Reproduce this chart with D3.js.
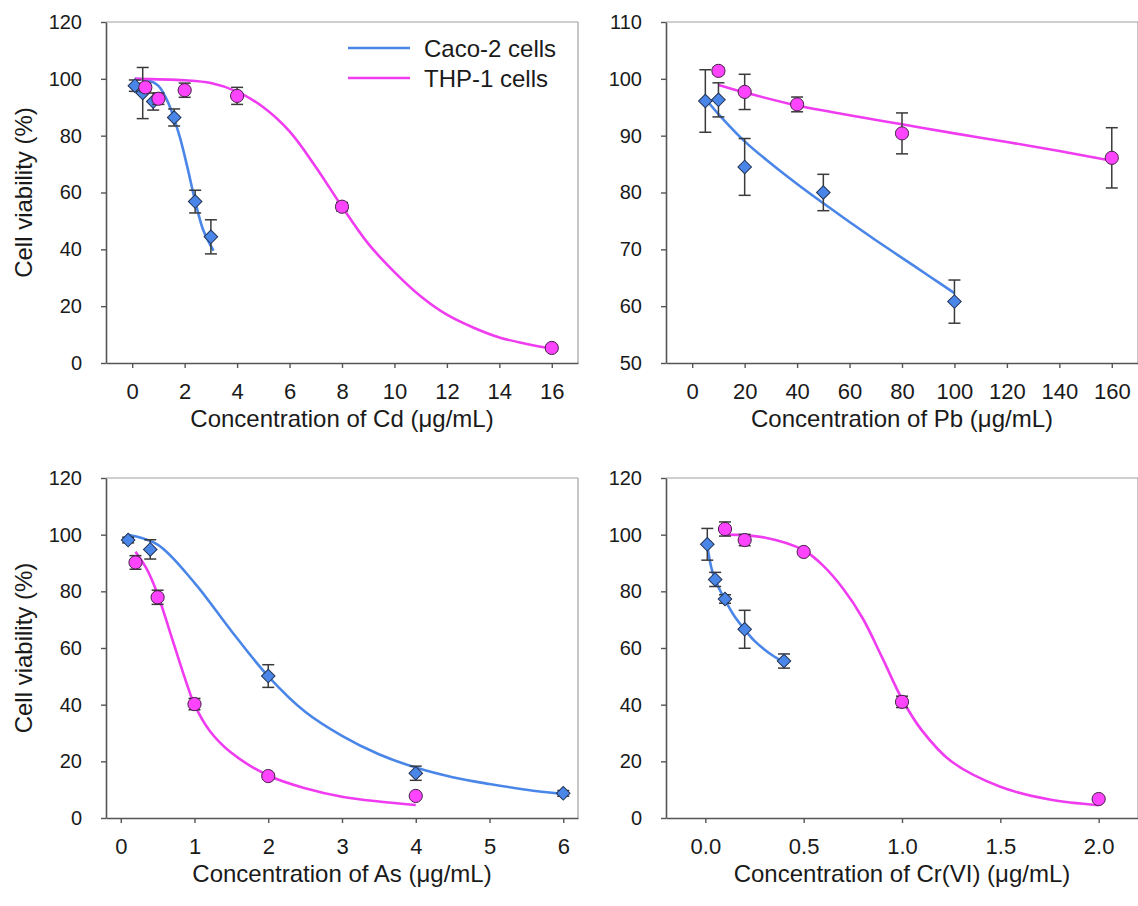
<!DOCTYPE html>
<html>
<head>
<meta charset="utf-8">
<title>Cell viability</title>
<script src="https://d3js.org/d3.v7.min.js"></script>
<style>
  body { margin: 0; background: #fff; }
  svg text { font-family: "Liberation Sans", Arial, sans-serif; fill: #1a1a1a; }
</style>
</head>
<body>
<svg id="chart" width="1138" height="906"></svg>
<script>
  // ---- Cd ----
  var cdCacoConc = [0.1, 0.4, 0.8, 1.6, 2.4, 3.0];
  var cdCacoViab = [97.6, 95, 92, 86.4, 56.8, 44.4];
  var cdCacoErr  = [2, 9, 3, 3, 4, 6];
  var cdThpConc  = [0.5, 1, 2, 4, 8, 16];
  var cdThpViab  = [97, 93, 96, 94, 55, 5.3];
  var cdThpErr   = [1.5, 2, 2.5, 3, 1.5, 1];
  var cdCacoFit  = [[0.1, 100], [0.6, 99.5], [1.0, 97.5], [1.4, 91], [1.8, 80], [2.1, 69], [2.4, 57], [2.7, 47], [3.1, 39.5]];
  var cdThpFit   = [[0.1, 100], [2, 99.5], [3, 98.5], [4, 95.5], [5, 90], [6, 81.5], [7, 69], [8, 55], [9, 42], [10, 32],
                    [11, 23.5], [12, 17], [13, 12.5], [14, 9], [15, 6.8], [16, 5]];

  // ---- Pb ----
  var pbCacoConc = [5, 10, 20, 50, 100];
  var pbCacoViab = [96.1, 96.3, 84.5, 80, 60.8];
  var pbCacoErr  = [5.5, 3, 5, 3.2, 3.8];
  var pbThpConc  = [10, 20, 40, 80, 160];
  var pbThpViab  = [101.4, 97.7, 95.5, 90.4, 86.1];
  var pbThpErr   = [0.6, 3.1, 1.3, 3.6, 5.3];
  var pbCacoFit  = [[5, 96.5], [10, 93.8], [20, 89], [30, 85.1], [40, 81.5], [50, 78.1], [60, 74.8], [70, 71.6], [80, 68.5], [90, 65.4], [100, 62.3]];
  var pbThpFit   = [[10, 98.9], [20, 97.6], [40, 95.3], [60, 93.6], [80, 92.0], [100, 90.4], [120, 88.9], [140, 87.3], [160, 85.6]];

  // ---- As ----
  var asCacoConc = [0.1, 0.4, 2, 4, 6];
  var asCacoViab = [98.1, 94.8, 50.1, 15.8, 8.7];
  var asCacoErr  = [1, 3.4, 4, 2.5, 1];
  var asThpConc  = [0.2, 0.5, 1, 2, 4];
  var asThpViab  = [90.2, 77.9, 40.2, 14.8, 7.8];
  var asThpErr   = [2.4, 2.5, 2, 1, 0.5];
  var asCacoFit  = [[0.1, 100], [0.5, 96.5], [1, 83], [1.5, 66], [2, 50], [2.5, 37.5], [3, 29], [3.5, 22.5], [4, 17.8],
                    [4.5, 14.4], [5, 12], [5.5, 10], [6, 8.5]];
  var asThpFit   = [[0.2, 94], [0.35, 88], [0.5, 79], [0.7, 63], [0.9, 47], [1, 40], [1.2, 31], [1.5, 23], [2, 15],
                    [2.5, 10.5], [3, 7.5], [3.5, 5.8], [4, 4.6]];

  // ---- Cr(VI) ----
  var crCacoConc = [0.01, 0.05, 0.1, 0.2, 0.4];
  var crCacoViab = [96.6, 84.2, 77.3, 66.6, 55.4];
  var crCacoErr  = [5.6, 2.5, 1.5, 6.7, 2.5];
  var crThpConc  = [0.1, 0.2, 0.5, 1, 2];
  var crThpViab  = [102, 98.1, 93.9, 41, 6.7];
  var crThpErr   = [2.5, 2, 0.8, 2, 0.8];
  var crCacoFit  = [[0.01, 96], [0.03, 88.5], [0.05, 84], [0.1, 77], [0.15, 71], [0.2, 66.5], [0.25, 62.5], [0.3, 59.5], [0.35, 57], [0.4, 55]];
  var crThpFit   = [[0.1, 100], [0.3, 99], [0.5, 94.5], [0.6, 89], [0.7, 81], [0.8, 70.5], [0.9, 56.5], [1.0, 42], [1.1, 31],
                    [1.25, 20], [1.5, 11], [1.75, 6.5], [2.0, 4.5]];

  var seriesNames = ["Caco-2 cells", "THP-1 cells"];
  var blue = "#4a86e8";
  var pink = "#f03cf0";

  var svg = d3.select("#chart");

  var panels = [
    { x0: 106, y0: 22, w: 472, h: 341, xDomain: [-1, 17], yDomain: [0, 120],
      xTicks: d3.range(0, 17, 2), yTicks: d3.range(0, 121, 20), fmt: d3.format("d"),
      xTitle: "Concentration of Cd (μg/mL)", yTitle: true, legend: true,
      caco: [cdCacoConc, cdCacoViab, cdCacoErr, cdCacoFit], thp: [cdThpConc, cdThpViab, cdThpErr, cdThpFit] },
    { x0: 666, y0: 22, w: 472, h: 341, xDomain: [-10, 170], yDomain: [50, 110],
      xTicks: d3.range(0, 161, 20), yTicks: d3.range(50, 111, 10), fmt: d3.format("d"),
      xTitle: "Concentration of Pb (μg/mL)", yTitle: false, legend: false,
      caco: [pbCacoConc, pbCacoViab, pbCacoErr, pbCacoFit], thp: [pbThpConc, pbThpViab, pbThpErr, pbThpFit] },
    { x0: 106, y0: 478, w: 472, h: 340, xDomain: [-0.2, 6.2], yDomain: [0, 120],
      xTicks: d3.range(0, 7, 1), yTicks: d3.range(0, 121, 20), fmt: d3.format("d"),
      xTitle: "Concentration of As (μg/mL)", yTitle: true, legend: false,
      caco: [asCacoConc, asCacoViab, asCacoErr, asCacoFit], thp: [asThpConc, asThpViab, asThpErr, asThpFit] },
    { x0: 666, y0: 478, w: 472, h: 340, xDomain: [-0.2, 2.2], yDomain: [0, 120],
      xTicks: [0, 0.5, 1, 1.5, 2], yTicks: d3.range(0, 121, 20), fmt: d3.format(".1f"),
      xTitle: "Concentration of Cr(VI) (μg/mL)", yTitle: false, legend: false,
      caco: [crCacoConc, crCacoViab, crCacoErr, crCacoFit], thp: [crThpConc, crThpViab, crThpErr, crThpFit] }
  ];

  panels.forEach(function(p) {
    var x = d3.scaleLinear().domain(p.xDomain).range([p.x0, p.x0 + p.w]);
    var y = d3.scaleLinear().domain(p.yDomain).range([p.y0 + p.h, p.y0]);
    var g = svg.append("g");

    // top and right frame
    g.append("line").attr("x1", p.x0).attr("x2", p.x0 + p.w).attr("y1", p.y0).attr("y2", p.y0)
      .attr("stroke", "#a0a0a0").attr("stroke-width", 1.2);
    g.append("line").attr("x1", p.x0 + p.w).attr("x2", p.x0 + p.w).attr("y1", p.y0).attr("y2", p.y0 + p.h)
      .attr("stroke", "#a0a0a0").attr("stroke-width", 1.2);

    var xAxis = g.append("g")
      .attr("transform", "translate(0," + (p.y0 + p.h) + ")")
      .call(d3.axisBottom(x).tickValues(p.xTicks).tickFormat(p.fmt).tickSize(5).tickSizeOuter(0).tickPadding(15));
    var yAxis = g.append("g")
      .attr("transform", "translate(" + p.x0 + ",0)")
      .call(d3.axisLeft(y).tickValues(p.yTicks).tickSize(5).tickSizeOuter(0).tickPadding(19));

    [xAxis, yAxis].forEach(function(a) {
      a.select(".domain").attr("stroke", "#555").attr("stroke-width", 1.6);
      a.selectAll(".tick line").attr("stroke", "#555").attr("stroke-width", 1.4);
      a.selectAll(".tick text").attr("fill", "#1a1a1a");
    });
    xAxis.selectAll(".tick text").style("font-size", "22px");
    yAxis.selectAll(".tick text").style("font-size", "20px");

    g.append("text")
      .attr("x", p.x0 + p.w / 2)
      .attr("y", p.y0 + p.h + 64)
      .attr("text-anchor", "middle")
      .style("font-size", "24px")
      .text(p.xTitle);

    if (p.yTitle) {
      g.append("text")
        .attr("transform", "translate(32," + (p.y0 + p.h / 2) + ") rotate(-90)")
        .attr("text-anchor", "middle")
        .style("font-size", "24px")
        .text("Cell viability (%)");
    }

    var line = d3.line().x(function(d) { return x(d[0]); }).y(function(d) { return y(d[1]); })
      .curve(d3.curveCatmullRom.alpha(0.5));

    var sets = [
      { s: p.caco, color: blue, shape: "diamond" },
      { s: p.thp, color: pink, shape: "circle" }
    ];

    // fitted curves
    sets.forEach(function(set) {
      g.append("path").datum(set.s[3])
        .attr("d", line)
        .attr("fill", "none")
        .attr("stroke", set.color)
        .attr("stroke-width", 2.6);
    });

    // error bars and markers
    sets.forEach(function(set) {
      var pts = set.s[0].map(function(c, i) { return { c: c, v: set.s[1][i], e: set.s[2][i] }; });
      var eb = g.append("g").attr("stroke", "#3a3a3a").attr("stroke-width", 1.5);
      pts.forEach(function(d) {
        var cx = x(d.c);
        eb.append("line").attr("x1", cx).attr("x2", cx).attr("y1", y(d.v - d.e)).attr("y2", y(d.v + d.e));
        eb.append("line").attr("x1", cx - 6).attr("x2", cx + 6).attr("y1", y(d.v - d.e)).attr("y2", y(d.v - d.e));
        eb.append("line").attr("x1", cx - 6).attr("x2", cx + 6).attr("y1", y(d.v + d.e)).attr("y2", y(d.v + d.e));
      });
      if (set.shape === "diamond") {
        g.selectAll(null).data(pts).enter().append("path")
          .attr("d", d3.symbol(d3.symbolSquare, 92))
          .attr("transform", function(d) { return "translate(" + x(d.c) + "," + y(d.v) + ") rotate(45)"; })
          .attr("fill", blue).attr("stroke", "#223355").attr("stroke-width", 1);
      } else {
        g.selectAll(null).data(pts).enter().append("circle")
          .attr("cx", function(d) { return x(d.c); })
          .attr("cy", function(d) { return y(d.v); })
          .attr("r", 6.6)
          .attr("fill", "#ff44ff").attr("stroke", "#442244").attr("stroke-width", 1);
      }
    });

    if (p.legend) {
      var lg = g.append("g");
      seriesNames.forEach(function(name, i) {
        var ly = 48 + i * 30;
        lg.append("line").attr("x1", 348).attr("x2", 410).attr("y1", ly).attr("y2", ly)
          .attr("stroke", i === 0 ? blue : pink).attr("stroke-width", 2.6);
        lg.append("text").attr("x", 424).attr("y", ly + 9)
          .style("font-size", "24px").text(name);
      });
    }
  });
</script>
</body>
</html>
